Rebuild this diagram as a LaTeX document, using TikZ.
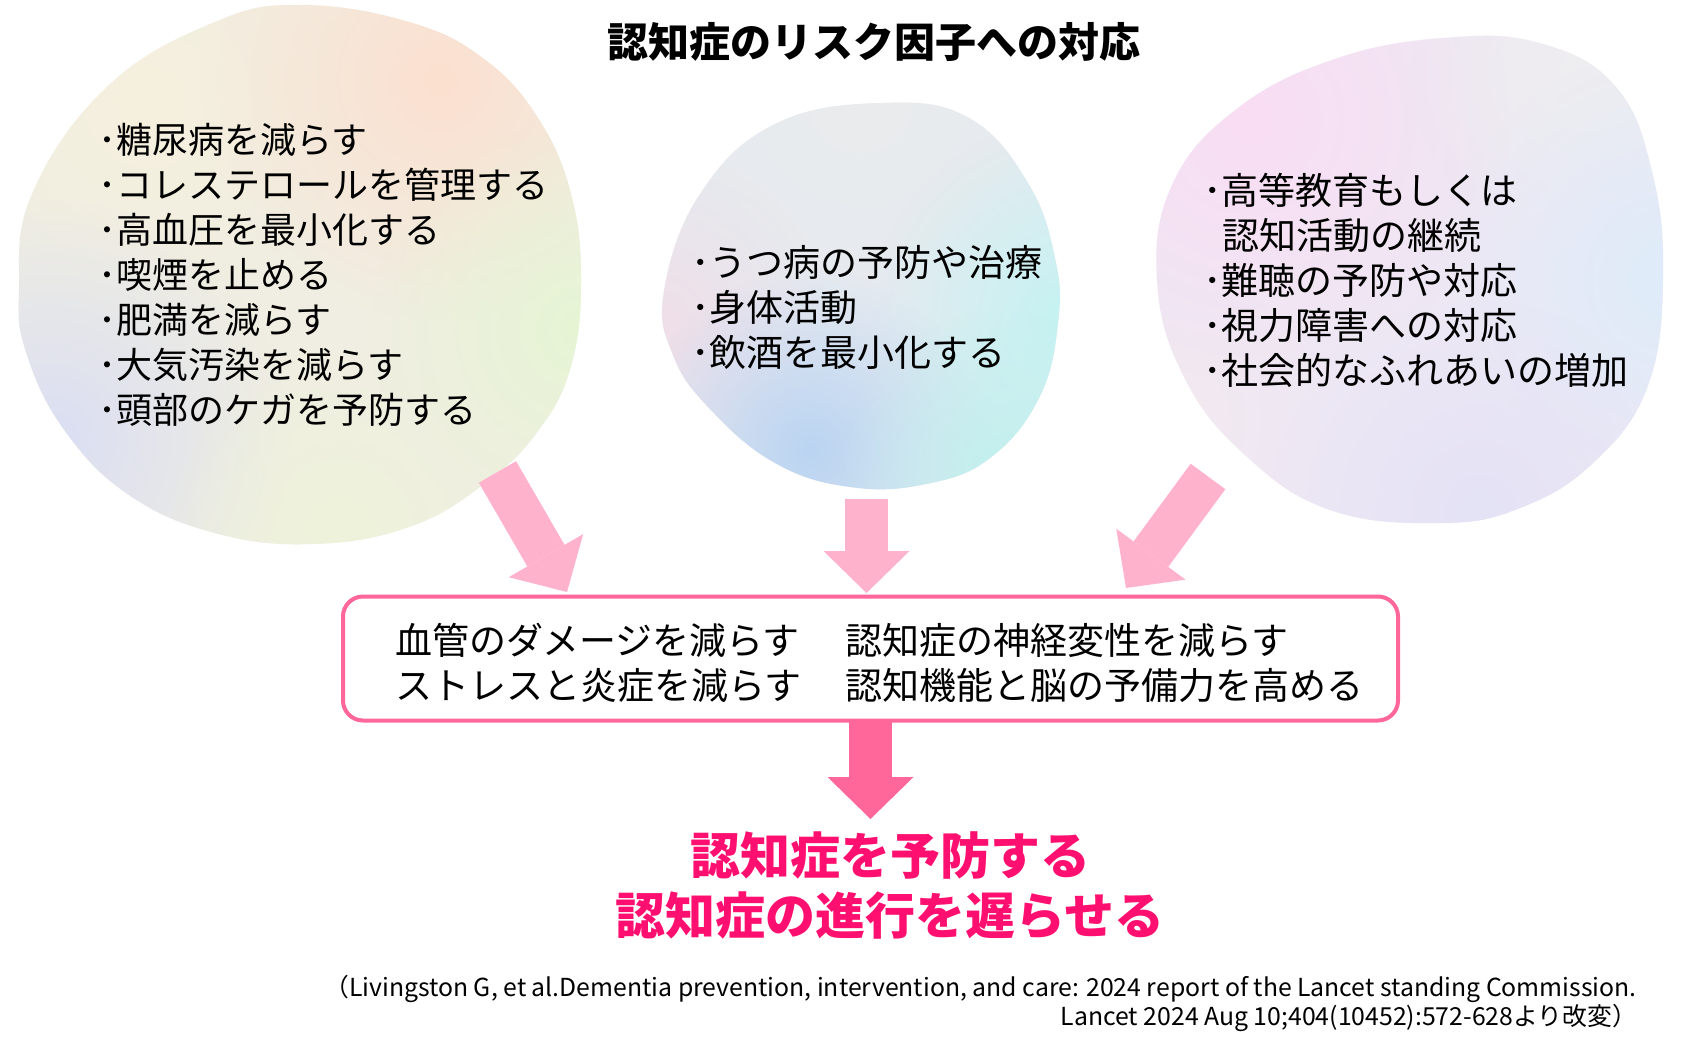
\documentclass[tikz,border=0pt]{standalone}
\usepackage{fontspec}
\setmainfont{Noto Sans CJK JP}
\usetikzlibrary{arrows.meta,fadings}
\definecolor{lpink}{RGB}{255,178,203}
\definecolor{dpink}{RGB}{255,102,153}
\definecolor{rtext}{RGB}{255,16,112}
% left blob colours
\definecolor{lbBase}{RGB}{240,238,226}
\definecolor{lbPeach}{RGB}{252,224,208}
\definecolor{lbGreen}{RGB}{230,245,212}
\definecolor{lbLav}{RGB}{218,222,243}
\definecolor{lbYG}{RGB}{238,243,218}
\definecolor{lbCream}{RGB}{246,240,222}
% middle blob colours
\definecolor{mbBase}{RGB}{230,234,240}
\definecolor{mbPink}{RGB}{240,222,232}
\definecolor{mbGrey}{RGB}{234,236,236}
\definecolor{mbCyan}{RGB}{196,243,243}
\definecolor{mbBlue}{RGB}{186,212,242}
\definecolor{mbAqua}{RGB}{192,240,238}
% right blob colours
\definecolor{rbBase}{RGB}{238,232,244}
\definecolor{rbPink}{RGB}{250,221,243}
\definecolor{rbGrey}{RGB}{238,238,240}
\definecolor{rbBlue}{RGB}{222,236,250}
\definecolor{rbLav}{RGB}{228,226,246}
\definecolor{rbCream}{RGB}{243,232,240}
\tikzfading[name=softspot, inner color=transparent!0, outer color=transparent!100]
\tikzset{
  spot/.style={path fading=softspot},
  listtext/.style={font=\fontsize{36}{45}\selectfont, align=left, anchor=west, inner sep=0pt},
  listtextb/.style={font=\fontsize{37}{45}\selectfont, align=left, anchor=west, inner sep=0pt},
  boxtext/.style={font=\fontsize{37}{44}\selectfont, anchor=west, inner sep=0pt},
  bigarrow/.style={line width=43pt, -{Triangle[length=42pt,width=86pt,line width=0pt]}},
  framebox/.style={draw=dpink, line width=4pt, rounded corners=20pt, fill=white, inner sep=0pt}
}
\begin{document}
\begin{tikzpicture}[x=1pt,y=-1pt]
\useasboundingbox (0,0) rectangle (1688,1049);
\fill[white] (0,0) rectangle (1688,1049);

% ---------- left blob ----------
\begin{scope}
\clip plot[smooth cycle, tension=0.7] coordinates {(19,291) (32,194) (108,86) (215,22) (301,5) (409,22) (484,59) (538,118) (571,194) (581,280) (571,366) (538,431) (484,484) (409,527) (312,544) (215,533) (129,495) (65,431) (27,355)};
\fill[lbBase] (0,0) rectangle (600,560);
\fill[lbCream, spot] (150,100) circle (200pt);
\fill[lbPeach, spot] (440,80) circle (240pt);
\fill[lbGreen, spot] (580,330) circle (210pt);
\fill[lbLav, spot] (50,440) circle (240pt);
\fill[lbYG, spot] (340,530) circle (180pt);
\end{scope}

% ---------- middle blob ----------
\begin{scope}
\clip plot[smooth cycle, tension=0.7] coordinates {(664,291) (700,194) (775,124) (883,103) (969,118) (1028,183) (1055,258) (1058,323) (1039,398) (990,458) (926,484) (850,487) (775,463) (710,409) (673,355)};
\fill[mbBase] (640,90) rectangle (1080,500);
\fill[mbGrey, spot] (860,100) circle (210pt);
\fill[mbPink, spot] (650,330) circle (180pt);
\fill[mbCyan, spot] (1070,320) circle (200pt);
\fill[mbBlue, spot] (810,450) circle (180pt);
\fill[mbAqua, spot] (1000,470) circle (160pt);
\end{scope}

% ---------- right blob ----------
\begin{scope}
\clip plot[smooth cycle, tension=0.7] coordinates {(1157,280) (1173,183) (1238,108) (1335,59) (1443,38) (1539,43) (1615,86) (1652,172) (1663,280) (1647,388) (1593,463) (1520,508) (1440,523) (1330,510) (1245,455) (1184,377)};
\fill[rbBase] (1140,20) rectangle (1688,540);
\fill[rbPink, spot] (1250,120) circle (260pt);
\fill[rbGrey, spot] (1590,70) circle (180pt);
\fill[rbBlue, spot] (1670,280) circle (230pt);
\fill[rbLav, spot] (1480,510) circle (210pt);
\fill[rbCream, spot] (1170,420) circle (150pt);
\end{scope}

% ---------- title ----------
\node (title) [font=\fontsize{41}{48}\selectfont\bfseries, inner sep=0pt] at (874,42) {認知症のリスク因子への対応};

% ---------- lists ----------
\node (listL) [listtext] at (98,274.5) {･糖尿病を減らす\\･コレステロールを管理する\\･高血圧を最小化する\\･喫煙を止める\\･肥満を減らす\\･大気汚染を減らす\\･頭部のケガを予防する};
\node (listM) [listtextb] at (691,307) {･うつ病の予防や治療\\･身体活動\\･飲酒を最小化する};
\node (listR) [listtextb] at (1203,280) {･高等教育もしくは\\\hspace*{19pt}認知活動の継続\\･難聴の予防や対応\\･視力障害への対応\\･社会的なふれあいの増加};

% ---------- arrows into the box ----------
\coordinate (la1) at (497.5,472);
\coordinate (la2) at (567,592);
\coordinate (ma1) at (866.5,499);
\coordinate (ma2) at (866.5,593);
\coordinate (ra1) at (1208,476.5);
\coordinate (ra2) at (1126,588);
\draw[bigarrow, lpink] (la1) -- (la2);
\draw[bigarrow, lpink] (ma1) -- (ma2);
\draw[bigarrow, lpink] (ra1) -- (ra2);

% ---------- central box ----------
\node (box) [framebox, minimum width=1055pt, minimum height=124pt] at (870.5,658.5) {};
\node (b1) [boxtext] at (395,640) {血管のダメージを減らす};
\node (b2) [boxtext] at (395,685) {ストレスと炎症を減らす};
\node (b3) [boxtext] at (845,640) {認知症の神経変性を減らす};
\node (b4) [boxtext] at (845,685) {認知機能と脳の予備力を高める};

% ---------- arrow to goal ----------
\coordinate (ba1) at (870.5,721);
\coordinate (ba2) at (870.5,819);
\draw[bigarrow, dpink] (ba1) -- (ba2);

% ---------- goal text ----------
\node (goal) [font=\fontsize{50}{60}\selectfont\bfseries, text=rtext, align=center, inner sep=0pt] at (890,886) {認知症を予防する\\認知症の進行を遅らせる};

% ---------- citation ----------
\node (cite) [font=\fontsize{24.8}{29}\selectfont, align=right, anchor=east, inner sep=0pt] at (1637,1003.5) {（Livingston G, et al.Dementia prevention, intervention, and care: 2024 report of the Lancet standing Commission.\\Lancet 2024 Aug 10;404(10452):572-628より改変）};
\end{tikzpicture}
\end{document}
